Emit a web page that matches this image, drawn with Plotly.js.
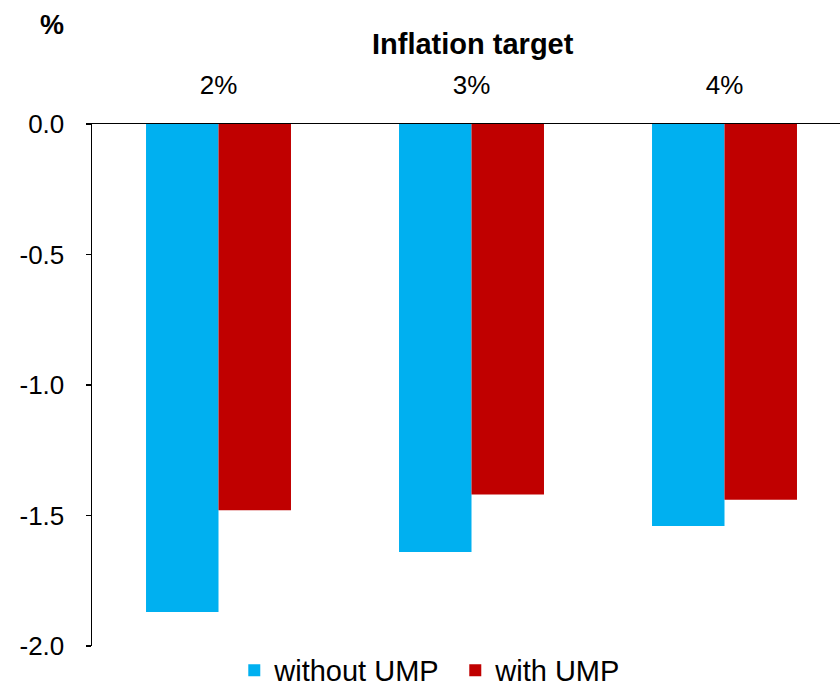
<!DOCTYPE html>
<html>
<head>
<meta charset="utf-8">
<script src="https://cdn.plot.ly/plotly-3.0.1.min.js"></script>
<style>
  html, body { margin: 0; padding: 0; background: #ffffff; }
  #chart { width: 840px; height: 684px; }
</style>
</head>
<body>
<div id="chart"></div>
<script>
// Inflation target scenarios (x categories)
const targets = ['2%', '3%', '4%'];
// Change in output, percent
const withoutUMP = [-1.87, -1.64, -1.54];
const withUMP = [-1.48, -1.42, -1.44];
const yTicks = [0, -0.5, -1.0, -1.5, -2.0];
const yTickText = ['0.0', '-0.5', '-1.0', '-1.5', '-2.0'];

const FONT = 'Liberation Sans, Arial, sans-serif';

const traces = [
  {
    type: 'bar',
    name: 'without UMP',
    x: targets,
    y: withoutUMP,
    marker: { color: '#00B0F0', line: { width: 0 } },
    hoverinfo: 'skip'
  },
  {
    type: 'bar',
    name: 'with UMP',
    x: targets,
    y: withUMP,
    marker: { color: '#C00000', line: { width: 0 } },
    hoverinfo: 'skip'
  }
];

const layout = {
  width: 840,
  height: 684,
  margin: { l: 92, r: 0, t: 124, b: 38, pad: 0, autoexpand: false },
  paper_bgcolor: '#ffffff',
  plot_bgcolor: '#ffffff',
  font: { family: FONT, size: 26, color: '#000000' },
  barmode: 'group',
  bargap: 0.427,
  bargroupgap: 0,
  showlegend: true,
  legend: {
    orientation: 'h',
    x: 0.542,
    xanchor: 'center',
    xref: 'container',
    y: 0.02,
    yref: 'container',
    yanchor: 'middle',
    font: { family: FONT, size: 29, color: '#000000' },
    itemsizing: 'constant',
    traceorder: 'normal',
    entrywidth: 176,
    bgcolor: 'rgba(0,0,0,0)'
  },
  xaxis: {
    type: 'category',
    side: 'top',
    range: [-0.5, 2.4565],
    automargin: false,
    showline: true,
    linecolor: '#000000',
    linewidth: 1.5,
    showgrid: false,
    zeroline: false,
    ticks: '',
    ticklabelstandoff: 18,
    tickfont: { family: FONT, size: 26, color: '#000000' },
    fixedrange: true
  },
  yaxis: {
    range: [-2, 0],
    automargin: false,
    tickvals: yTicks,
    ticktext: yTickText,
    showline: true,
    linecolor: '#000000',
    linewidth: 1.5,
    showgrid: false,
    zeroline: false,
    ticks: 'outside',
    ticklen: 5,
    tickwidth: 1.5,
    tickcolor: '#000000',
    ticklabelstandoff: 16,
    tickfont: { family: FONT, size: 26, color: '#000000' },
    fixedrange: true
  },
  annotations: [
    {
      // title of the category axis, above the tick labels
      text: '<b>Inflation target</b>',
      xref: 'paper',
      yref: 'paper',
      x: 0.51,
      y: 1.153,
      xanchor: 'center',
      yanchor: 'middle',
      showarrow: false,
      font: { family: FONT, size: 29, color: '#000000' }
    },
    {
      // unit of the value axis
      text: '<b>%</b>',
      xref: 'paper',
      yref: 'paper',
      x: -0.054,
      y: 1.19,
      xanchor: 'center',
      yanchor: 'middle',
      showarrow: false,
      font: { family: FONT, size: 27, color: '#000000' }
    }
  ]
};

Plotly.newPlot('chart', traces, layout, { displayModeBar: false, staticPlot: true });
</script>
</body>
</html>
